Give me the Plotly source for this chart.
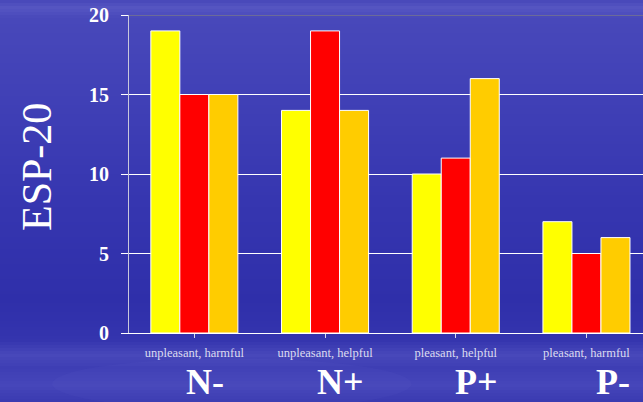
import plotly.graph_objects as go

# Response categories and their short codes
categories = ["unpleasant, harmful", "unpleasant, helpful", "pleasant, helpful", "pleasant, harmful"]
codes = ["N-", "N+", "P+", "P-"]

# ESP-20 values for the three series in each category
series_a = [19, 14, 10, 7]
series_b = [15, 19, 11, 5]
series_c = [15, 14, 16, 6]

y_ticks = [0, 5, 10, 15, 20]

colors = ["#ffff00", "#ff0000", "#ffcc00"]
SERIF = "Liberation Serif, Times New Roman, serif"

W, H = 643, 402
ML, MT, MB = 129, 15, 69
plot_w = W - ML
plot_h = H - MT - MB
cat_px = 130.7

fig = go.Figure()
for vals, col in zip([series_a, series_b, series_c], colors):
    fig.add_trace(go.Bar(
        x=list(range(len(categories))), y=vals,
        marker=dict(color=col, line=dict(color="#ffffff", width=1)),
        showlegend=False, hoverinfo="skip",
    ))

# Vertical blue gradient with faint light streaks for the slide background
stops = [
    (0, (70, 70, 184)), (8, (86, 86, 194)), (18, (72, 72, 186)),
    (100, (64, 64, 182)), (200, (54, 54, 176)), (300, (47, 47, 170)),
    (340, (52, 52, 174)), (355, (72, 72, 186)), (368, (62, 62, 180)),
    (385, (70, 70, 186)), (402, (58, 58, 176)),
]


def color_at(py):
    for (y0, c0), (y1, c1) in zip(stops[:-1], stops[1:]):
        if y0 <= py <= y1:
            t = (py - y0) / (y1 - y0) if y1 > y0 else 0
            return "rgb(%d,%d,%d)" % tuple(round(a + (b - a) * t) for a, b in zip(c0, c1))
    return "rgb(%d,%d,%d)" % stops[-1][1]


shapes = []
step = 3
for py in range(0, H, step):
    top = 1 - (py - MT) / plot_h
    bot = 1 - (py + step + 1 - MT) / plot_h
    shapes.append(dict(
        type="rect", xref="paper", yref="paper", layer="below",
        x0=-ML / plot_w - 0.01, x1=1.01, y0=bot, y1=top,
        fillcolor=color_at(py + step / 2), line=dict(width=0),
    ))
# soft lighter haze low on the left
shapes.append(dict(
    type="circle", xref="paper", yref="paper", layer="below",
    x0=-0.15, x1=0.55, y0=-0.24, y1=-0.08,
    fillcolor="rgba(120,120,210,0.07)", line=dict(width=0),
))
# top border line at 20
shapes.append(dict(
    type="line", xref="paper", yref="y", x0=0, x1=1, y0=20, y1=20,
    line=dict(color="#8c8a78", width=1), layer="above",
))

annotations = []
for i, code in enumerate(codes):
    annotations.append(dict(
        x=i * 1.04 + 0.08, y=-(382 - (H - MB)) / plot_h, xref="x", yref="paper",
        text="<b>%s</b>" % code, showarrow=False,
        font=dict(family=SERIF, size=36, color="#ffffff"),
        xanchor="center", yanchor="middle", height=38,
    ))
annotations.append(dict(
    x=(37 - ML) / plot_w, y=((H - MB) - 167) / plot_h, xref="paper", yref="paper",
    text="ESP-20", textangle=-90, showarrow=False,
    font=dict(family=SERIF, size=42, color="#ffffff"),
    xanchor="center", yanchor="middle",
))

fig.update_layout(
    width=W, height=H,
    margin=dict(l=ML, r=0, t=MT, b=MB),
    paper_bgcolor="#3838b0", plot_bgcolor="rgba(0,0,0,0)",
    barmode="group", bargap=0.334, bargroupgap=0,
    shapes=shapes, annotations=annotations,
    xaxis=dict(
        range=[-0.5, plot_w / cat_px - 0.5],
        tickmode="array", tickvals=list(range(len(categories))), ticktext=categories,
        tickson="boundaries", ticks="outside", ticklen=4, tickcolor="#d8d8e8",
        tickfont=dict(family=SERIF, size=12.5, color="#dcdcf0"),
        ticklabelstandoff=4,
        showgrid=False, showline=True, linecolor="#ffffff", linewidth=1,
        zeroline=False, fixedrange=True,
    ),
    yaxis=dict(
        range=[0, 20], tickmode="array", tickvals=y_ticks,
        ticks="outside", ticklen=7, tickcolor="#ffffff",
        tickfont=dict(family=SERIF, size=20, color="#ffffff", weight="bold"),
        ticklabelstandoff=8,
        showgrid=True, gridcolor="#ffffff", gridwidth=1,
        showline=True, linecolor="#c8c8dc", linewidth=1,
        zeroline=True, zerolinecolor="#ffffff", zerolinewidth=1,
        fixedrange=True,
    ),
)

fig.write_html("out.html")
